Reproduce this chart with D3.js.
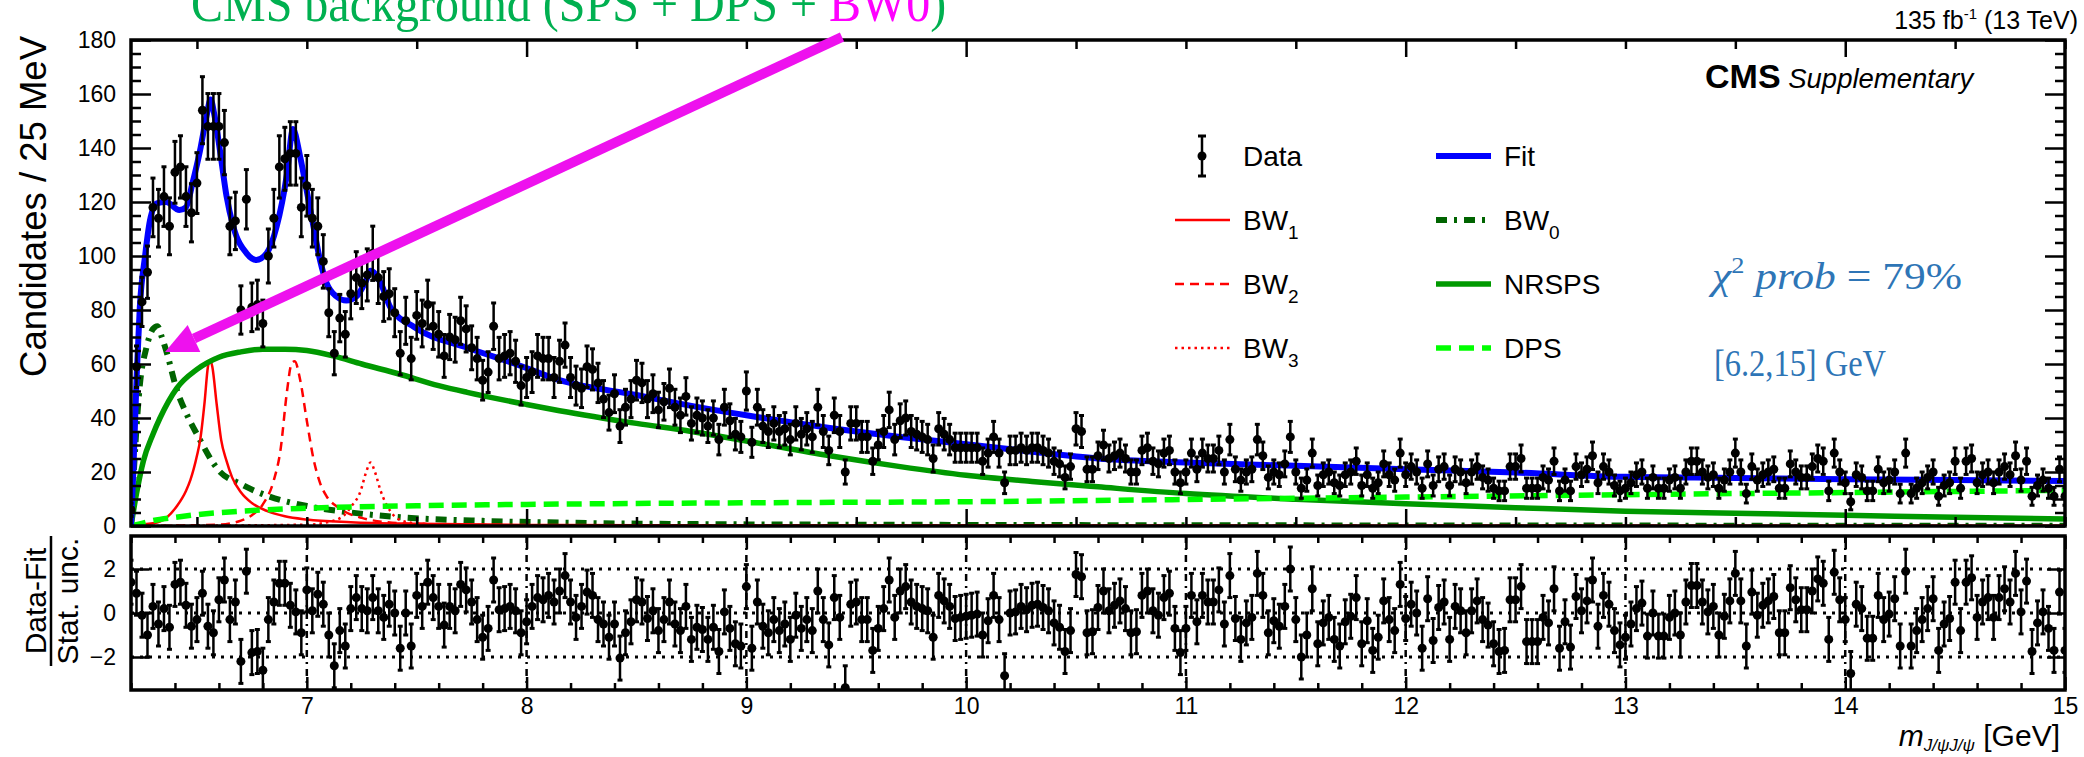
<!DOCTYPE html>
<html>
<head>
<meta charset="utf-8">
<script src="https://cdn.jsdelivr.net/npm/d3@7"></script>
<style>
  body { margin: 0; background: #fff; }
  svg text { font-family: "Liberation Sans", Arial, sans-serif; }
</style>
</head>
<body>
<svg id="chart" width="2084" height="757"></svg>
<script>
// ---- data ----
// candidates per 25 MeV bin, first bin at 6.2 GeV
var massStart = 6.2, binWidth = 0.025;
var counts = [
  6,59,83,94,118,114,122,111,131,133,122,116,127,154,148,148,148,142,111,113,
  80,121,81,82,75,100,114,133,136,138,138,118,126,114,111,98,79,64,77,71,
  86,92,90,93,101,92,85,86,79,64,76,62,78,75,82,74,71,63,70,69,
  76,73,66,62,54,57,74,62,63,64,61,52,55,57,63,62,62,55,61,67,
  55,52,51,59,58,53,47,42,49,37,44,47,54,53,47,49,43,46,51,44,
  41,48,38,41,40,37,40,32,44,39,34,33,50,31,44,37,35,38,35,36,
  32,38,34,36,33,44,35,28,41,35,20,38,38,33,33,24,30,35,43,32,
  39,40,35,34,33,32,25,36,34,32,29,29,29,29,29,24,27,33,27,16,
  28,28,29,28,29,29,28,27,24,23,18,22,36,35,21,21,26,30,25,26,
  27,25,20,20,28,29,24,23,27,28,20,16,20,27,21,27,25,25,28,20,
  32,21,17,20,21,32,26,18,20,19,23,33,20,14,17,27,15,19,20,16,
  15,19,20,24,15,19,14,16,23,19,17,27,19,22,20,14,23,15,21,22,
  15,21,20,16,20,22,18,17,14,13,13,22,22,25,14,14,14,18,17,24,
  13,17,13,22,19,21,26,16,22,20,15,13,14,16,19,20,14,18,14,14,
  17,18,14,20,24,24,20,18,19,14,17,20,27,20,12,22,17,19,20,21,
  14,14,23,20,18,18,22,25,24,13,27,20,16,9,19,18,13,13,21,16,
  17,20,12,27,12,14,16,18,20,11,15,16,24,14,24,25,16,19,20,16,
  20,22,19,26,17,24,11,15,17,14,11,21,11
];
// (data - fit) / stat. unc., same bins
var pulls = [
  1.4,0.9,-0.1,-1.0,0.3,-0.5,0.2,-0.65,1.3,1.4,0.35,-0.6,-0.3,0.9,-0.6,-0.9,0.6,1.5,-0.3,0.5,
  -2.2,1.9,-1.8,-1.75,-2.6,-0.3,0.5,1.35,1.35,0.35,0.05,-0.9,1.05,0.1,0.85,0.4,-1.0,-2.4,-0.8,-1.5,
  0.2,0.7,0.2,0.1,0.7,0.1,-0.2,0.4,0.0,-1.6,0.0,-1.5,0.8,0.3,1.4,0.7,0.3,-0.55,0.3,0.1,
  1.3,1.05,0.5,-0.3,-1.1,-0.7,1.5,0.15,0.2,0.3,0.1,-0.9,-0.4,0.3,0.7,0.6,0.8,0.5,1.0,1.7,
  0.5,-0.2,0.3,0.95,0.8,-0.3,-0.5,-1.1,-0.5,-2.05,-0.9,-0.4,0.6,0.5,-0.25,0.1,-0.8,-0.3,0.5,-0.5,
  -0.8,0.3,-1.2,-0.65,-0.75,-1.2,-0.65,-1.75,0.05,-0.7,-1.4,-1.5,1.2,-1.6,0.5,-0.6,-0.9,-0.3,-0.8,-0.5,
  -1.2,-0.1,-0.7,-0.3,-0.8,1.0,-0.3,-1.45,0.7,-0.2,-3.4,0.4,0.5,-0.3,-0.3,-1.7,-0.7,0.2,1.5,-0.2,
  1.0,1.2,0.5,0.3,0.2,0.1,-1.1,0.8,0.55,0.3,-0.25,-0.2,-0.15,-0.1,-0.05,-1.0,-0.35,0.8,-0.3,-2.85,
  0.0,0.05,0.3,0.15,0.35,0.4,0.25,0.1,-0.45,-0.65,-1.75,-0.8,1.75,1.65,-0.9,-0.85,0.25,1.0,0.1,0.35,
  0.55,0.2,-0.9,-0.85,0.8,1.0,0.1,-0.1,0.7,0.9,-0.7,-1.8,-0.7,0.8,-0.4,0.8,0.5,0.5,1.05,-0.5,
  1.7,-0.25,-1.2,-0.45,-0.2,1.8,0.8,-0.9,-0.35,-0.6,0.3,2.0,-0.3,-2.0,-1.0,1.1,-1.4,-0.45,-0.2,-1.2,
  -1.5,-0.4,-0.15,0.7,-1.4,-0.35,-1.7,-1.1,0.55,-0.3,-0.8,1.3,-0.25,0.4,0.0,-1.6,0.65,-1.25,0.25,0.5,
  -1.2,0.3,0.1,-0.9,0.1,0.55,-0.3,-0.55,-1.4,-1.75,-1.7,0.6,0.6,1.2,-1.3,-1.3,-1.3,-0.2,-0.45,1.1,
  -1.6,-0.4,-1.55,0.75,0.1,0.55,1.5,-0.6,0.8,0.4,-0.8,-1.45,-1.1,-0.5,0.2,0.45,-1.05,0.0,-1.05,-1.05,
  -0.2,0.0,-1.0,0.5,1.25,1.25,0.5,0.05,0.3,-1.0,-0.15,0.55,1.8,0.55,-1.5,0.95,-0.1,0.35,0.55,0.75,
  -0.9,-0.9,1.15,0.6,0.15,0.15,1.0,1.55,1.35,-1.2,1.85,0.6,-0.3,-2.75,0.4,0.2,-1.15,-1.15,0.8,-0.3,
  -0.05,0.65,-1.5,1.9,-1.5,-0.8,-0.3,0.2,0.65,-1.7,-0.5,-0.25,1.4,-0.8,1.4,1.6,-0.2,0.5,0.7,-0.2,
  0.7,1.1,0.5,1.8,0.05,1.45,-1.75,-0.45,0.05,-0.7,-1.7,0.95,-1.7
];

// fit components, [mass GeV, candidates]
var fitTotal = [[6.2,0],[6.21,19],[6.226,56],[6.24,81],[6.264,100],[6.286,113],[6.317,119.5],[6.36,120],
  [6.42,117],[6.45,118],[6.48,127],[6.514,139],[6.544,152],[6.562,158],[6.58,152],[6.605,139],[6.635,122],
  [6.665,111],[6.726,101],[6.77,98.5],[6.817,101],[6.863,111],[6.909,130],[6.937,147],[6.969,137],[7.0,124],
  [7.03,111],[7.06,98.5],[7.09,90],[7.135,85],[7.18,83.5],[7.226,85],[7.27,91],[7.29,94.5],[7.336,90],
  [7.38,81],[7.49,73.6],[7.73,66],[7.95,60],[8.15,54],[8.5,48.5],[8.75,44.5],[9.0,41],[9.38,36.3],[9.7,33],
  [10.0,30.3],[10.3,27.5],[10.6,25],[11.0,23.5],[11.5,22.3],[12.0,21],[12.5,19.8],[13.0,18.2],[13.5,17.8],
  [14.0,17.3],[14.5,17],[15.0,16.7]];
var bw1 = [[6.2,0.3],[6.3,1],[6.36,3],[6.41,7.5],[6.45,13],[6.47,17],[6.5,26],[6.515,32],[6.535,46],[6.55,59],
  [6.56,61.5],[6.57,59],[6.59,45],[6.61,32],[6.635,24],[6.66,18],[6.7,12.5],[6.75,8.5],[6.82,5.5],[6.9,3.6],
  [7.0,2.4],[7.2,1.4],[7.5,0.8],[8.0,0.4],[9.0,0.2],[15.0,0.05]];
var bw2 = [[6.2,0],[6.6,0.5],[6.7,2],[6.75,4],[6.8,8],[6.85,17],[6.88,28],[6.91,50],[6.93,60],[6.945,61],
  [6.97,54],[7.0,39],[7.03,25],[7.06,16],[7.09,11],[7.14,7],[7.18,5],[7.25,3],[7.35,1.5],[7.5,0.8],[8.0,0.3],[15.0,0]];
var bw3 = [[6.2,0],[7.0,0.5],[7.1,1.5],[7.17,4],[7.2,7],[7.245,13],[7.27,20],[7.29,23.5],[7.31,20],[7.336,13],
  [7.38,5.5],[7.43,2],[7.5,1],[7.7,0.3],[8.0,0],[15.0,0]];
var bw0 = [[6.2,0],[6.22,30],[6.24,52],[6.27,66],[6.3,73],[6.32,74],[6.34,70],[6.36,65],[6.41,50],[6.45,42],
  [6.5,34],[6.6,20.5],[6.7,15.5],[6.8,11.8],[7.0,7.4],[7.2,5],[7.4,3.4],[7.8,1.9],[8.2,1.2],[9.0,0.6],
  [10.0,0.4],[12.0,0.2],[15.0,0.1]];
var nrsps = [[6.2,0],[6.225,12],[6.256,24],[6.3,34],[6.332,40],[6.408,51],[6.5,58],[6.6,62.5],[6.7,64.5],
  [6.8,65.5],[6.9,65.5],[7.0,65],[7.12,63],[7.25,60],[7.42,56.3],[7.6,52],[7.73,49.5],[8.0,45],[8.15,42.7],
  [8.5,38],[8.75,35],[9.0,31.5],[9.38,26],[9.7,22],[10.0,18.8],[10.3,16.5],[10.6,14.5],[11.0,12],[11.5,9.9],
  [12.0,8.2],[12.5,6.8],[13.0,5.5],[13.5,4.7],[14.0,4.0],[14.5,3.2],[15.0,2.6]];
var dps = [[6.2,0],[6.25,1],[6.3,2],[6.4,3.2],[6.5,4.2],[6.7,5.5],[7.0,6.6],[7.5,7.5],[8.0,8.0],[9.0,8.6],
  [10.0,9.0],[11.0,9.8],[12.0,10.7],[13.0,11.6],[14.0,12.4],[15.0,13.2]];

var topMajor = [8, 10, 12, 14];
var yTopMajor = [0, 20, 40, 60, 80, 100, 120, 140, 160, 180];
var botMajor = [7, 8, 9, 10, 11, 12, 13, 14, 15];
var pullLines = [-2, 0, 2];

// ---- layout ----
var svg = d3.select('#chart');
var x = d3.scaleLinear().domain([6.2, 15]).range([131, 2065]);
var yTop = d3.scaleLinear().domain([0, 180]).range([526, 40]);
var yBot = d3.scaleLinear().domain([-3.5, 3.5]).range([690, 536]);
var serif = '"Liberation Serif", "Times New Roman", serif';

svg.append('rect').attr('width', 2084).attr('height', 757).attr('fill', '#fff');

var defs = svg.append('defs');
defs.append('clipPath').attr('id', 'clipTop').append('rect')
  .attr('x', x(6.2)).attr('y', yTop(180)).attr('width', x(15) - x(6.2)).attr('height', yTop(0) - yTop(180));
defs.append('clipPath').attr('id', 'clipBot').append('rect')
  .attr('x', x(6.2)).attr('y', yBot(3.5)).attr('width', x(15) - x(6.2)).attr('height', yBot(-3.5) - yBot(3.5));

var bins = counts.map(function(c, i) {
  return { m: massStart + i * binWidth, n: c, p: pulls[i] };
});

// ---- top panel curves ----
var line = d3.line()
  .x(function(d) { return x(d[0]); })
  .y(function(d) { return yTop(d[1]); })
  .curve(d3.curveMonotoneX);

var gCurves = svg.append('g').attr('clip-path', 'url(#clipTop)');
function curve(pts, color, width, dash) {
  gCurves.append('path').datum(pts)
    .attr('d', line)
    .attr('fill', 'none')
    .attr('stroke', color)
    .attr('stroke-width', width)
    .attr('stroke-dasharray', dash || null);
}
curve(bw0, '#006400', 6, '11,7,3,7');
curve(bw1, '#ff0000', 2.5);
curve(bw2, '#ff0000', 2.5, '9,6');
curve(bw3, '#ff0000', 2.5, '2.5,4');
curve(nrsps, '#009900', 5.5);
curve(dps, '#00ff00', 5.5, '15,8');
curve(fitTotal, '#0000ff', 6);

// ---- data points ----
function drawPoints(g, yScale, val, err) {
  var pts = g.selectAll('g.pt').data(bins).enter().append('g').attr('class', 'pt');
  pts.append('line')
    .attr('x1', function(d) { return x(d.m); }).attr('x2', function(d) { return x(d.m); })
    .attr('y1', function(d) { return yScale(val(d) - err(d)); })
    .attr('y2', function(d) { return yScale(val(d) + err(d)); })
    .attr('stroke', '#000').attr('stroke-width', 2.5);
  [-1, 1].forEach(function(s) {
    pts.append('line')
      .attr('x1', function(d) { return x(d.m) - 2.5; }).attr('x2', function(d) { return x(d.m) + 2.5; })
      .attr('y1', function(d) { return yScale(val(d) + s * err(d)); })
      .attr('y2', function(d) { return yScale(val(d) + s * err(d)); })
      .attr('stroke', '#000').attr('stroke-width', 3);
  });
  pts.append('circle')
    .attr('cx', function(d) { return x(d.m); })
    .attr('cy', function(d) { return yScale(val(d)); })
    .attr('r', 4.5).attr('fill', '#000');
}
drawPoints(svg.append('g').attr('clip-path', 'url(#clipTop)'), yTop,
  function(d) { return d.n; }, function(d) { return Math.sqrt(d.n); });

// ---- bottom panel grid ----
var gGrid = svg.append('g');
gGrid.selectAll('line.h').data(pullLines).enter().append('line')
  .attr('x1', x(6.2)).attr('x2', x(15))
  .attr('y1', function(d) { return yBot(d); }).attr('y2', function(d) { return yBot(d); })
  .attr('stroke', '#000').attr('stroke-width', 3).attr('stroke-dasharray', '3,6');
gGrid.selectAll('line.v').data(botMajor.slice(0, -1)).enter().append('line')
  .attr('x1', function(d) { return x(d); }).attr('x2', function(d) { return x(d); })
  .attr('y1', yBot(3.5)).attr('y2', yBot(-3.5))
  .attr('stroke', '#000').attr('stroke-width', 2.5).attr('stroke-dasharray', '7,5,2,5');

drawPoints(svg.append('g').attr('clip-path', 'url(#clipBot)'), yBot,
  function(d) { return d.p; }, function() { return 1; });

// ---- axes ----
function styleAxis(g, size) {
  g.select('.domain').remove();
  g.selectAll('.tick line').attr('stroke-width', 2.5);
  g.selectAll('text').style('font-size', size + 'px').attr('fill', '#000');
  g.attr('font-family', null).attr('font-size', null);
}
function minorVals(lo, hi, step, majors) {
  return d3.range(lo, hi + 1e-9, step).map(function(v) { return +v.toFixed(3); })
    .filter(function(v) { return majors.indexOf(v) < 0; });
}

// top panel x ticks (no labels)
var topMinor = minorVals(6.5, 15, 0.5, topMajor);
[[d3.axisBottom, yTop(0)], [d3.axisTop, yTop(180)]].forEach(function(a) {
  svg.append('g').attr('transform', 'translate(0,' + a[1] + ')')
    .call(a[0](x).tickValues(topMajor).tickSize(-17).tickFormat('')).call(styleAxis, 22);
  svg.append('g').attr('transform', 'translate(0,' + a[1] + ')')
    .call(a[0](x).tickValues(topMinor).tickSize(-9).tickFormat('')).call(styleAxis, 22);
});
// top panel y ticks
var yTopMinor = minorVals(0, 180, 5, yTopMajor);
svg.append('g').attr('transform', 'translate(' + x(6.2) + ',0)')
  .call(d3.axisLeft(yTop).tickValues(yTopMajor).tickSize(-20).tickPadding(15)).call(styleAxis, 23);
svg.append('g').attr('transform', 'translate(' + x(6.2) + ',0)')
  .call(d3.axisLeft(yTop).tickValues(yTopMinor).tickSize(-10).tickFormat('')).call(styleAxis, 22);
svg.append('g').attr('transform', 'translate(' + x(15) + ',0)')
  .call(d3.axisRight(yTop).tickValues(yTopMajor).tickSize(-20).tickFormat('')).call(styleAxis, 22);
svg.append('g').attr('transform', 'translate(' + x(15) + ',0)')
  .call(d3.axisRight(yTop).tickValues(yTopMinor).tickSize(-10).tickFormat('')).call(styleAxis, 22);

// bottom panel ticks
var botMinor = minorVals(6.2, 15, 0.2, botMajor);
svg.append('g').attr('transform', 'translate(0,' + yBot(-3.5) + ')')
  .call(d3.axisBottom(x).tickValues(botMajor).tickSize(-13).tickPadding(8)).call(styleAxis, 23);
svg.append('g').attr('transform', 'translate(0,' + yBot(-3.5) + ')')
  .call(d3.axisBottom(x).tickValues(botMinor).tickSize(-7).tickFormat('')).call(styleAxis, 22);
svg.append('g').attr('transform', 'translate(0,' + yBot(3.5) + ')')
  .call(d3.axisTop(x).tickValues(botMajor).tickSize(-13).tickFormat('')).call(styleAxis, 22);
svg.append('g').attr('transform', 'translate(0,' + yBot(3.5) + ')')
  .call(d3.axisTop(x).tickValues(botMinor).tickSize(-7).tickFormat('')).call(styleAxis, 22);
svg.append('g').attr('transform', 'translate(' + x(6.2) + ',0)')
  .call(d3.axisLeft(yBot).tickValues(pullLines).tickSize(-18).tickPadding(15).tickFormat(d3.format('d')))
  .call(styleAxis, 23);
svg.append('g').attr('transform', 'translate(' + x(15) + ',0)')
  .call(d3.axisRight(yBot).tickValues(pullLines).tickSize(-18).tickFormat('')).call(styleAxis, 22);

// frames
[[yTop(180), yTop(0)], [yBot(3.5), yBot(-3.5)]].forEach(function(f) {
  svg.append('rect').attr('x', x(6.2)).attr('y', f[0])
    .attr('width', x(15) - x(6.2)).attr('height', f[1] - f[0])
    .attr('fill', 'none').attr('stroke', '#000').attr('stroke-width', 3.5);
});

// ---- axis titles ----
svg.append('text').attr('transform', 'translate(46,36) rotate(-90)')
  .attr('text-anchor', 'end').style('font-size', '36.5px').text('Candidates / 25 MeV');

var frac = svg.append('g').attr('transform', 'translate(0,601) rotate(-90)');
frac.append('text').attr('x', 0).attr('y', 46).attr('text-anchor', 'middle')
  .style('font-size', '30px').text('Data-Fit');
frac.append('line').attr('x1', -65).attr('x2', 65).attr('y1', 51).attr('y2', 51)
  .attr('stroke', '#000').attr('stroke-width', 2.5);
frac.append('text').attr('x', 0).attr('y', 78).attr('text-anchor', 'middle')
  .style('font-size', '30px').text('Stat. unc.');

var xt = svg.append('text').attr('x', 2060).attr('y', 746).attr('text-anchor', 'end').style('font-size', '30px');
xt.append('tspan').attr('font-style', 'italic').text('m');
xt.append('tspan').attr('font-style', 'italic').style('font-size', '17px').attr('dy', 5).text('J/\u03C8J/\u03C8');
xt.append('tspan').attr('dy', -5).text(' [GeV]');

// ---- labels ----
var lumi = svg.append('text').attr('x', 2078).attr('y', 29).attr('text-anchor', 'end').style('font-size', '25px');
lumi.append('tspan').text('135 fb');
lumi.append('tspan').style('font-size', '15px').attr('dy', -10).text('-1');
lumi.append('tspan').attr('dy', 10).text(' (13 TeV)');

var cms = svg.append('text').attr('x', 1705).attr('y', 88);
cms.append('tspan').attr('font-weight', 'bold').style('font-size', '34px').text('CMS');
cms.append('tspan').attr('font-style', 'italic').style('font-size', '27.5px').text(' Supplementary');

// ---- legend ----
var legend = [
  { label: 'Data', sub: '', col: 0, row: 0, type: 'data' },
  { label: 'BW', sub: '1', col: 0, row: 1, color: '#ff0000', w: 2.5 },
  { label: 'BW', sub: '2', col: 0, row: 2, color: '#ff0000', w: 2.5, dash: '9,6' },
  { label: 'BW', sub: '3', col: 0, row: 3, color: '#ff0000', w: 2.5, dash: '2.5,4' },
  { label: 'Fit', sub: '', col: 1, row: 0, color: '#0000ff', w: 6 },
  { label: 'BW', sub: '0', col: 1, row: 1, color: '#006400', w: 6, dash: '11,7,3,7' },
  { label: 'NRSPS', sub: '', col: 1, row: 2, color: '#009900', w: 5.5 },
  { label: 'DPS', sub: '', col: 1, row: 3, color: '#00ff00', w: 5.5, dash: '15,8' }
];
var lg = svg.append('g');
legend.forEach(function(e) {
  var x0 = e.col === 0 ? 1175 : 1436;
  var yc = 156 + e.row * 64;
  if (e.type === 'data') {
    lg.append('line').attr('x1', x0 + 27).attr('x2', x0 + 27).attr('y1', yc - 20).attr('y2', yc + 20)
      .attr('stroke', '#000').attr('stroke-width', 2.5);
    [-20, 20].forEach(function(o) {
      lg.append('line').attr('x1', x0 + 23).attr('x2', x0 + 31).attr('y1', yc + o).attr('y2', yc + o)
        .attr('stroke', '#000').attr('stroke-width', 3);
    });
    lg.append('circle').attr('cx', x0 + 27).attr('cy', yc).attr('r', 4.5).attr('fill', '#000');
  } else {
    lg.append('line').attr('x1', x0).attr('x2', x0 + 55).attr('y1', yc).attr('y2', yc)
      .attr('stroke', e.color).attr('stroke-width', e.w).attr('stroke-dasharray', e.dash || null);
  }
  var t = lg.append('text').attr('x', x0 + 68).attr('y', yc + 10).style('font-size', '28px');
  t.append('tspan').text(e.label);
  if (e.sub) t.append('tspan').style('font-size', '19px').attr('dy', 9).text(e.sub);
});

// ---- annotations ----
var chi = svg.append('text').attr('x', 1712).attr('y', 289)
  .attr('textLength', 250).attr('lengthAdjust', 'spacingAndGlyphs')
  .style('font-family', serif).style('font-size', '38px').attr('fill', '#2e75b6');
chi.append('tspan').attr('font-style', 'italic').text('\u03C7');
chi.append('tspan').style('font-size', '23px').attr('dy', -16).text('2');
chi.append('tspan').attr('dy', 16).attr('font-style', 'italic').text(' prob');
chi.append('tspan').text(' = 79%');

svg.append('text').attr('x', 1714).attr('y', 376)
  .attr('textLength', 172).attr('lengthAdjust', 'spacingAndGlyphs')
  .style('font-family', serif).style('font-size', '38px').attr('fill', '#2e75b6').text('[6.2,15] GeV');

// slide annotation above the frame, partly cut by the top edge as in the original
var title = svg.append('text').attr('transform', 'translate(191,21) scale(1,1.1)')
  .style('font-family', serif).style('font-size', '48px').attr('fill', '#00b050');
title.append('tspan').text('CMS background (SPS + DPS + ');
title.append('tspan').attr('fill', '#ff00ff').text('BW0');
title.append('tspan').text(')');

// arrow from the title towards BW0
var arrowFrom = [842, 37], arrowTo = [165, 352];
var ang = Math.atan2(arrowTo[1] - arrowFrom[1], arrowTo[0] - arrowFrom[0]);
var headLen = 32, headHalf = 15;
var bx = arrowTo[0] - headLen * Math.cos(ang), by = arrowTo[1] - headLen * Math.sin(ang);
svg.append('line').attr('x1', arrowFrom[0]).attr('y1', arrowFrom[1]).attr('x2', bx).attr('y2', by)
  .attr('stroke', '#ee11ee').attr('stroke-width', 10);
svg.append('path')
  .attr('d', 'M' + arrowTo[0] + ',' + arrowTo[1] +
    'L' + (bx + headHalf * Math.sin(ang)) + ',' + (by - headHalf * Math.cos(ang)) +
    'L' + (bx - headHalf * Math.sin(ang)) + ',' + (by + headHalf * Math.cos(ang)) + 'Z')
  .attr('fill', '#ee11ee');
</script>
</body>
</html>
